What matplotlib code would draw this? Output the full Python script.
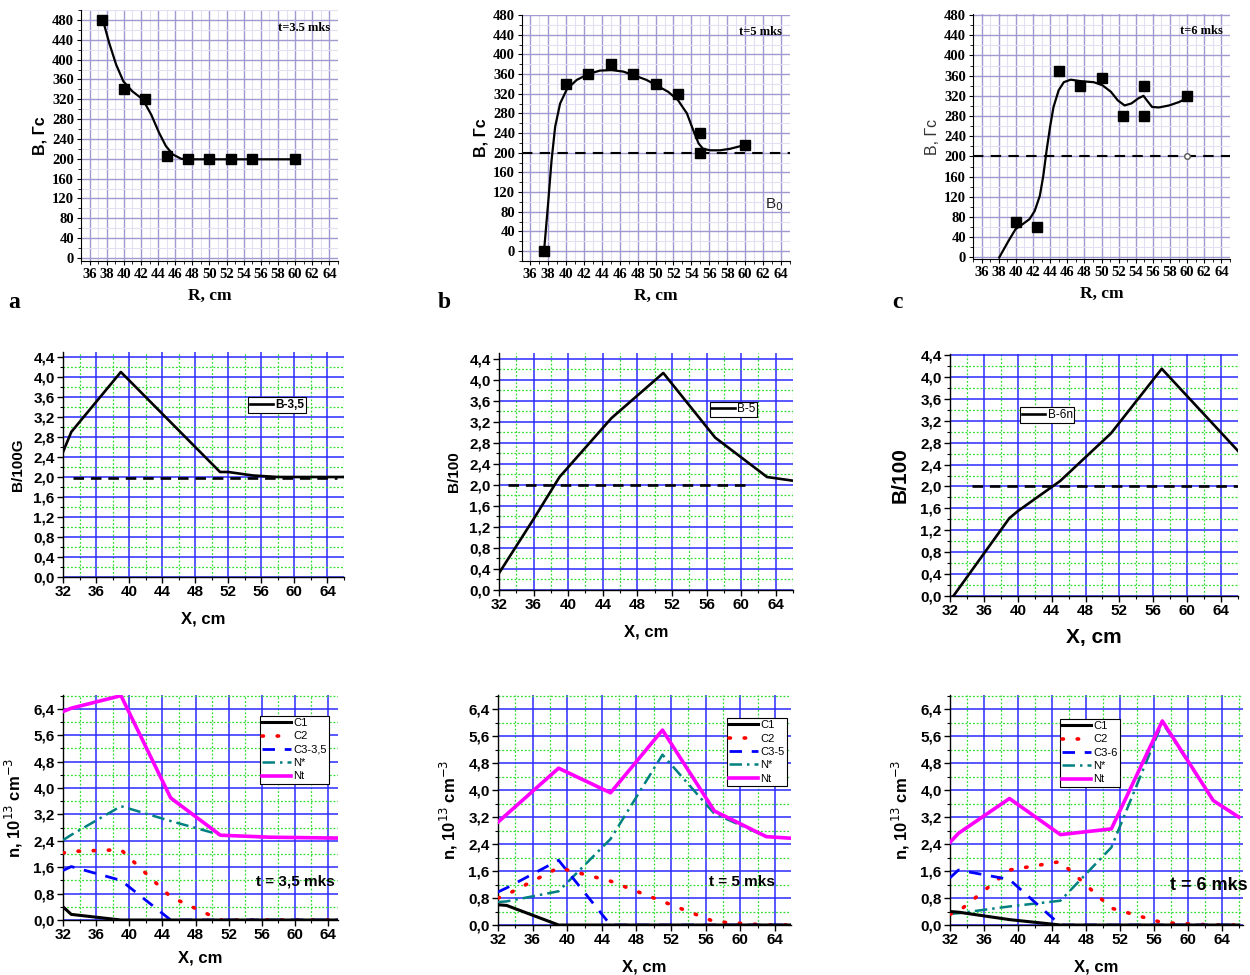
import matplotlib
matplotlib.use("Agg")
import matplotlib.pyplot as plt
from matplotlib.ticker import MultipleLocator, FuncFormatter
from matplotlib.lines import Line2D

# ---- row 1: measured B(R), squares + hand-drawn smooth curve ----
r_a = [37.5, 40, 42.5, 45, 47.5, 50, 52.5, 55, 60]
b_a = [480, 340, 320, 205, 200, 200, 200, 200, 200]
curve_ra = [37.55, 38.3, 39.1, 39.95, 41.0, 42.2, 43.2, 44.1, 44.9, 45.7, 46.7, 47.6, 60]
curve_ba = [480, 433, 390, 356, 336, 320, 289, 253, 226, 209, 200, 199, 199]

r_b = [37.5, 40, 42.5, 45, 47.5, 50, 52.5, 55, 55, 60]
b_b = [0, 340, 360, 380, 360, 340, 320, 240, 200, 215]
curve_rb = [37.56, 38.04, 38.4, 38.8, 39.35, 40.1, 41.2, 42.5, 43.8, 45.1, 46.4, 47.5,
            49.0, 50.1, 51.4, 52.5, 53.5, 54.2, 54.8, 55.3, 56.1, 57.2, 58.3, 59.8]
curve_bb = [0, 103, 185, 253, 300, 329, 348, 360, 367, 368, 365, 358,
            348, 337, 324, 307, 280, 246, 219, 208, 205, 205, 208, 215]

r_c = [40, 42.5, 45, 47.5, 50, 52.5, 55, 55, 60]
b_c = [70, 60, 370, 340, 355, 280, 340, 280, 320]
curve_rc = [38.06, 39.05, 39.96, 40.8, 41.6, 42.2, 42.8, 43.2, 43.6, 44.0, 44.4, 45.0, 45.6,
            46.4, 47.6, 49.1, 50.1, 51.1, 51.9, 52.7, 53.5, 54.3, 54.9, 55.3, 55.9, 56.7,
            57.9, 59.1, 60.2]
curve_bc = [0, 30, 56, 66, 76, 92, 122, 161, 213, 259, 298, 331, 347,
            352, 349, 347, 341, 328, 311, 301, 305, 315, 320, 311, 298, 297,
            301, 308, 318]

top_labels = ["t=3.5 mks", "t=5 mks", "t=6 mks"]
b0_level = 200

# ---- row 2: B/100 profiles ----
x_b35 = [32, 33, 39, 51, 52, 55, 58, 66]
y_b35 = [2.5, 2.9, 4.1, 2.1, 2.1, 2.03, 2.0, 2.0]
x_b5 = [32, 36, 39, 45, 51, 57, 63, 66]
y_b5 = [0.32, 1.35, 2.15, 3.27, 4.13, 2.9, 2.15, 2.08]
x_b6 = [32.4, 39, 40, 45, 51, 57, 66]
y_b6 = [0.0, 1.42, 1.55, 2.1, 2.97, 4.15, 2.65]
mid_labels = ["B-3,5", "B-5", "B-6n"]

# ---- row 3: densities ----
x35 = [32, 33, 39, 45, 51, 57, 63, 66]
c1_35 = [0.4, 0.17, 0.0, 0.0, 0.0, 0.0, 0.0, 0.0]
c2_35 = [2.03, 2.08, 2.13, 0.7, 0.0, 0.0, 0.0, 0.0]
c3_35 = [1.5, 1.62, 1.2, 0.0, 0.0, 0.0, 0.0, 0.0]
ns_35 = [2.42, 2.58, 3.45, 3.0, 2.58, 2.5, 2.49, 2.48]
nt_35 = [6.32, 6.42, 6.8, 3.7, 2.57, 2.51, 2.49, 2.48]

x5 = [32, 33, 39, 45, 51, 57, 63, 66]
c1_5 = [0.6, 0.58, 0.0, 0.0, 0.0, 0.0, 0.0, 0.0]
c2_5 = [0.8, 0.9, 1.7, 1.3, 0.7, 0.1, 0.0, 0.0]
c3_5 = [0.98, 1.1, 1.92, 0.0, 0.0, 0.0, 0.0, 0.0]
ns_5 = [0.68, 0.7, 1.0, 2.55, 5.05, 3.3, 2.62, 2.57]
nt_5 = [3.05, 3.28, 4.65, 3.92, 5.78, 3.38, 2.62, 2.57]

x6 = [32, 33, 39, 45, 51, 57, 63, 66]
c1_6 = [0.4, 0.38, 0.16, 0.0, 0.0, 0.0, 0.0, 0.0]
c2_6 = [0.32, 0.4, 1.63, 1.88, 0.5, 0.07, 0.0, 0.0]
c3_6 = [1.4, 1.63, 1.35, 0.0, 0.0, 0.0, 0.0, 0.0]
ns_6 = [0.33, 0.35, 0.55, 0.72, 2.3, 6.0, 3.69, 3.2]
nt_6 = [2.45, 2.72, 3.75, 2.68, 2.85, 6.05, 3.69, 3.2]
c3_names = ["C3-3,5", "C3-5", "C3-6"]
t_labels = ["t = 3,5 mks", "t = 5 mks", "t = 6 mks"]

SANS = "Liberation Sans"
SERIF = "Liberation Serif"

fig = plt.figure(figsize=(12.5, 9.75), dpi=100)


def px_axes(l, r, t, b):
    return fig.add_axes([l / 1250, 1 - b / 975, (r - l) / 1250, (b - t) / 975])


def comma(v, pos):
    return f"{v:.1f}".replace(".", ",")


def style_top(ax, xlim, ylim, ylab_bold=True):
    ax.set_xlim(*xlim)
    ax.set_ylim(*ylim)
    ax.xaxis.set_major_locator(MultipleLocator(2))
    ax.xaxis.set_minor_locator(MultipleLocator(1))
    ax.yaxis.set_major_locator(MultipleLocator(40))
    ax.yaxis.set_minor_locator(MultipleLocator(20))
    ax.grid(which="major", color="#9f9bd0", lw=1.0)
    ax.grid(which="minor", color="#e2e0f2", lw=0.8)
    ax.set_axisbelow(True)
    for s in ("top", "right"):
        ax.spines[s].set_visible(False)
    ax.tick_params(which="major", length=3, width=0.8, pad=2)
    ax.tick_params(which="minor", length=2, width=0.6)
    for lbl in ax.get_xticklabels() + ax.get_yticklabels():
        lbl.set_fontfamily(SERIF)
        lbl.set_fontweight("bold")
        lbl.set_fontsize(10.5)
    ax.set_xlabel("R, cm", fontfamily=SERIF, fontweight="bold", fontsize=12.5, labelpad=5)
    ax.set_ylabel("B, Гс", fontfamily=SANS, fontsize=11.5,
                  fontweight="bold" if ylab_bold else "normal",
                  color="black" if ylab_bold else "#333333", labelpad=3)


def style_grid(ax, xlim, ylim, ystep):
    ax.set_xlim(*xlim)
    ax.set_ylim(*ylim)
    ax.xaxis.set_major_locator(MultipleLocator(4))
    ax.xaxis.set_minor_locator(MultipleLocator(2))
    ax.yaxis.set_major_locator(MultipleLocator(ystep))
    ax.yaxis.set_minor_locator(MultipleLocator(ystep / 2))
    ax.yaxis.set_major_formatter(FuncFormatter(comma))
    ax.grid(which="major", color="#2a2aff", lw=1.1)
    ax.grid(which="minor", color="#33dd33", lw=0.9, ls=(0, (1.5, 1.5)))
    ax.set_axisbelow(True)
    for s in ("top", "right"):
        ax.spines[s].set_visible(False)
    ax.spines["left"].set_linewidth(1.0)
    ax.spines["bottom"].set_linewidth(1.0)
    ax.tick_params(which="major", length=4, width=1, pad=2, labelsize=11)
    ax.tick_params(which="minor", length=2.5, width=0.8)
    for lbl in ax.get_xticklabels() + ax.get_yticklabels():
        lbl.set_fontfamily(SANS)
        lbl.set_fontweight("bold")


# ---------------- row 1 ----------------
top_axes = [px_axes(81, 338, 10, 261), px_axes(522, 790, 15, 261), px_axes(973, 1230, 14, 259)]
top_lims = [((35, 65), (-6, 500)), ((35.1, 65), (-20, 480)), ((35, 65), (-3, 482))]
top_pts = [(r_a, b_a, curve_ra, curve_ba), (r_b, b_b, curve_rb, curve_bb),
           (r_c, b_c, curve_rc, curve_bc)]
for i, ax in enumerate(top_axes):
    style_top(ax, *top_lims[i], ylab_bold=(i < 2))
    rr, bb, cr, cb = top_pts[i]
    ax.plot(cr, cb, color="black", lw=1.6, zorder=3)
    ax.plot(rr, bb, ls="none", marker="s", ms=7.5, color="black", zorder=4)
    ax.text(0.97, 0.93, top_labels[i], transform=ax.transAxes, ha="right", va="center",
            fontfamily=SERIF, fontweight="bold", fontsize=9)
    if i > 0:
        ax.axhline(b0_level, color="black", lw=1.5, ls=(0, (5, 3.5)), zorder=2)
top_axes[1].text(0.94, 0.23, "B$_0$", transform=top_axes[1].transAxes, ha="center",
                 va="center", fontsize=11, fontfamily=SANS, color="#222222")
top_axes[2].plot([60], [b0_level], ls="none", marker="o", ms=4, mfc="white",
                 mec="#555555", zorder=4)
for x, lab in [(14, "a"), (444, "b"), (897, "c")]:
    fig.text(x / 1250, 1 - 302 / 975, lab, fontfamily=SERIF, fontweight="bold",
             fontsize=17, ha="center", va="center")

# ---------------- row 2 ----------------
mid_axes = [px_axes(63, 344, 352, 577), px_axes(499, 793, 353, 590), px_axes(950, 1238, 354, 596)]
mid_lims = [((32, 66), (0, 4.5)), ((32, 66), (0, 4.51)), ((32, 66), (0, 4.42))]
mid_data = [(x_b35, y_b35), (x_b5, y_b5), (x_b6, y_b6)]
mid_dash = [(33.2, 65.1, 1.97), (33.0, 60.8, 2.0), (34.6, 66, 2.0)]
mid_ylab = ["B/100G", "B/100", "B/100"]
mid_leg = [(0.658, 0.80), (0.716, 0.795), (0.243, 0.78)]
for i, ax in enumerate(mid_axes):
    style_grid(ax, *mid_lims[i], 0.4)
    xs, ys = mid_data[i]
    ax.plot(xs, ys, color="black", lw=1.9, label=mid_labels[i], zorder=3)
    x0, x1, lev = mid_dash[i]
    ax.plot([x0, x1], [lev, lev], color="black", lw=1.9, ls=(0, (4, 2.6)), zorder=3)
    big = i == 2
    ax.set_ylabel(mid_ylab[i], fontfamily=SANS, fontweight="bold",
                  fontsize=15 if big else 11, labelpad=8 if big else 6)
    ax.set_xlabel("X, cm", fontfamily=SANS, fontweight="bold",
                  fontsize=15 if big else 12, labelpad=7 if big else 9)
    leg = ax.legend(loc="upper left", bbox_to_anchor=mid_leg[i], fancybox=False,
                    framealpha=1, edgecolor="black", borderpad=0.15, handlelength=2.0,
                    handletextpad=0.2, borderaxespad=0,
                    prop={"family": SANS, "size": 8.5, "weight": "bold" if i == 0 else "normal"})
    leg.get_frame().set_linewidth(0.8)

# ---------------- row 3 ----------------
low_axes = [px_axes(63, 338, 695, 920), px_axes(498, 791, 695, 925), px_axes(950, 1243, 695, 925)]
low_lims = [((32, 65.2), (0, 6.82)), ((32, 65.85), (0, 6.82)), ((32, 66.5), (0, 6.82))]
low_data = [(x35, c1_35, c2_35, c3_35, ns_35, nt_35),
            (x5, c1_5, c2_5, c3_5, ns_5, nt_5),
            (x6, c1_6, c2_6, c3_6, ns_6, nt_6)]
low_leg = [(0.716, 0.907), (0.782, 0.90), (0.375, 0.896)]
low_t = [(295, 882, 11), (742, 882, 11), (1209, 886, 13)]
dot_style = dict(color="#ff0000", lw=2.6, ls=(0, (0.4, 3.8)), dash_capstyle="round")
for i, ax in enumerate(low_axes):
    style_grid(ax, *low_lims[i], 0.8)
    xs, c1, c2, c3, ns, nt = low_data[i]
    ax.plot(xs, ns, color="#008080", lw=1.8, ls=(0, (5, 2, 1, 2)), zorder=3)
    ax.plot(xs, c2, zorder=3, **dot_style)
    ax.plot(xs, c3, color="#0000ff", lw=2.0, ls=(0, (4.5, 3.5)), zorder=3)
    ax.plot(xs, c1, color="black", lw=2.2, zorder=3)
    ax.plot(xs, nt, color="#ff00ff", lw=2.6, zorder=4)
    ax.set_ylabel("n, 10$^{13}$ cm$^{-3}$", fontfamily=SANS, fontweight="bold",
                  fontsize=12, labelpad=6)
    ax.set_xlabel("X, cm", fontfamily=SANS, fontweight="bold", fontsize=12,
                  labelpad=6 if i == 0 else 9)
    handles = [Line2D([], [], color="black", lw=2.2),
               Line2D([], [], **dot_style),
               Line2D([], [], color="#0000ff", lw=2.0, ls=(0, (4.5, 3.5))),
               Line2D([], [], color="#008080", lw=1.8, ls=(0, (5, 2, 1, 2))),
               Line2D([], [], color="#ff00ff", lw=2.6)]
    names = ["C1", "C2", c3_names[i], "N*", "Nt"]
    leg = ax.legend(handles, names, loc="upper left", bbox_to_anchor=low_leg[i],
                    fancybox=False, framealpha=1, edgecolor="black", borderpad=0.2,
                    handlelength=2.6, handletextpad=0.2, labelspacing=0.3,
                    borderaxespad=0, prop={"family": SANS, "size": 8})
    leg.get_frame().set_linewidth(0.8)
    tx, ty, fs = low_t[i]
    fig.text(tx / 1250, 1 - ty / 975, t_labels[i], fontfamily=SANS, fontweight="bold",
             fontsize=fs, ha="center", va="center")

fig.savefig("out.png", dpi=100)
